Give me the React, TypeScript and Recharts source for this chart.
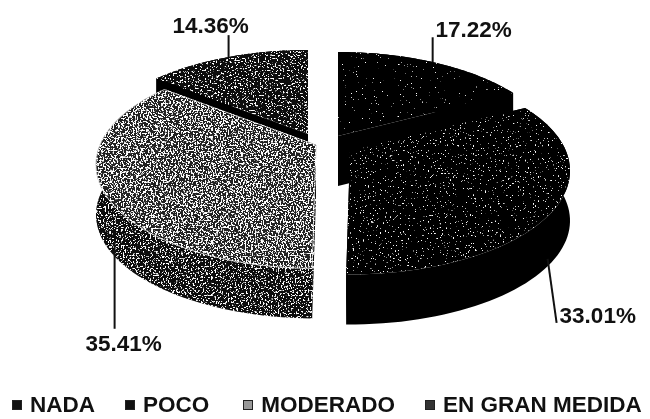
import React from "react";
import { PieChart, Pie, Legend } from "recharts";

const legendNames = ["NADA", "POCO", "MODERADO", "EN GRAN MEDIDA"];
const legendValues = [17.22, 33.01, 35.41, 14.36];
// Drawing order follows the pie's clockwise order, starting at the back-left slice so that nearer slices overlap it.
const drawOrder = [3, 0, 1, 2];

const data = drawOrder.map((i) => ({ name: legendNames[i], value: legendValues[i] }));

const CX = 330;
const CY = 141;
const RX = 216;
const RY = 100;
const PERSPECTIVE = 0.19;
const DEPTH = 50;

type SliceStyle = {
  dx: number; dy: number; top: string; wall: string; topFilter: string; wallFilter: string; stroke: string;
  lineDx: number; labelDx: number; labelDy: number; lineBaseDepth: number; textAnchor: "start" | "middle"; textDy: number; textDx: number;
};

const styles: Record<string, SliceStyle> = {
  NADA: { dx: 8, dy: -5, top: "#050505", wall: "#000", topFilter: "url(#speckSparse)", wallFilter: "none", stroke: "none", lineDx: -1, labelDx: 0, labelDy: -25, lineBaseDepth: 0, textAnchor: "middle", textDx: 41, textDy: 6 },
  POCO: { dx: 20, dy: 10, top: "#050505", wall: "#000", topFilter: "url(#speckMid)", wallFilter: "none", stroke: "none", lineDx: -7, labelDx: 9, labelDy: 64, lineBaseDepth: DEPTH, textAnchor: "start", textDx: 3, textDy: 0 },
  MODERADO: { dx: -14, dy: 4, top: "#222", wall: "#0a0a0a", topFilter: "url(#speckGrey)", wallFilter: "url(#speckWall)", stroke: "#bbb", lineDx: 11, labelDx: 0, labelDy: 87, lineBaseDepth: DEPTH, textAnchor: "middle", textDx: 9, textDy: 22 },
  "EN GRAN MEDIDA": { dx: -22, dy: -7, top: "#0a0a0a", wall: "#000", topFilter: "url(#speckDense)", wallFilter: "none", stroke: "none", lineDx: 1, labelDx: 0, labelDy: -22, lineBaseDepth: 0, textAnchor: "middle", textDx: -18, textDy: 4 },
};

const project = (cx: number, cy: number, mathAngle: number) => {
  const th = ((90 - mathAngle) * Math.PI) / 180;
  const t = Math.cos(th);
  const s = 1 / (1 + PERSPECTIVE * t);
  return { x: cx + RX * Math.sin(th) * s, y: cy - RY * t * s };
};

const toPath = (pts: { x: number; y: number }[]) =>
  pts.map((p, i) => `${i ? "L" : "M"}${p.x.toFixed(2)} ${p.y.toFixed(2)}`).join("") + "Z";

const Slice3D = (props: any) => {
  const name = props.payload?.name ?? props.name;
  const st = styles[name];
  const ax = props.cx + st.dx;
  const ay = props.cy + st.dy;
  const steps = 60;
  const arc: { x: number; y: number }[] = [];
  for (let i = 0; i <= steps; i++) {
    arc.push(project(ax, ay, props.startAngle + ((props.endAngle - props.startAngle) * i) / steps));
  }
  const down = (p: { x: number; y: number }) => ({ x: p.x, y: p.y + DEPTH });
  const apex = { x: ax, y: ay };
  const wall = [...arc, ...arc.slice().reverse().map(down)];
  const cut1 = [apex, arc[0], down(arc[0]), down(apex)];
  const cut2 = [apex, arc[steps], down(arc[steps]), down(apex)];
  return (
    <g>
      <path d={toPath(cut1)} fill={st.wall} filter={st.wallFilter} />
      <path d={toPath(cut2)} fill={st.wall} filter={st.wallFilter} />
      <path d={toPath(wall)} fill={st.wall} filter={st.wallFilter} />
      <path d={toPath([apex, ...arc])} fill={st.top} filter={st.topFilter} stroke={st.stroke} strokeWidth={1} />
    </g>
  );
};

const SliceLabel = (props: any) => {
  const name = props.payload?.name ?? props.name;
  const st = styles[name];
  const p = project(props.cx + st.dx, props.cy + st.dy, props.midAngle);
  const x0 = p.x + st.lineDx;
  const y0 = p.y + st.lineBaseDepth;
  const x1 = x0 + st.labelDx;
  const y1 = y0 + st.labelDy;
  return (
    <g>
      <line x1={x0} y1={y0} x2={x1} y2={y1} stroke="#111" strokeWidth={2} />
      <text
        x={x1 + st.textDx}
        y={y1 + st.textDy + (st.labelDy < 0 ? -6 : 0)}
        textAnchor={st.textAnchor}
        fontFamily="'Liberation Sans', Arial, sans-serif"
        fontWeight="bold"
        fontSize={22.5}
        fill="#111"
      >
        {`${props.value.toFixed(2)}%`}
      </text>
    </g>
  );
};

const speck = (id: string, threshold: number, freq: number, seed: number) => (
  <filter id={id} x="-5%" y="-5%" width="110%" height="110%">
    <feTurbulence type="fractalNoise" baseFrequency={freq} numOctaves={2} seed={seed} result="n" />
    <feColorMatrix
      in="n"
      type="matrix"
      values={`0 0 0 0 1  0 0 0 0 1  0 0 0 0 1  14 0 0 0 ${-14 * threshold}`}
      result="w"
    />
    <feComposite in="w" in2="SourceGraphic" operator="in" result="spots" />
    <feMerge>
      <feMergeNode in="SourceGraphic" />
      <feMergeNode in="spots" />
    </feMerge>
  </filter>
);

const iconFill = ["#111", "#111", "#999", "#333"];
const iconGaps = [12, 30, 34, 30];

const LegendRow = () => (
  <div
    style={{
      display: "flex",
      alignItems: "center",
      fontFamily: "'Liberation Sans', Arial, sans-serif",
      fontWeight: "bold",
      fontSize: 22.5,
      color: "#111",
      whiteSpace: "nowrap",
      lineHeight: "24px",
    }}
  >
    {legendNames.map((n, i) => (
      <React.Fragment key={n}>
        <span
          style={{
            display: "inline-block",
            width: 10,
            height: 10,
            marginLeft: iconGaps[i],
            marginRight: 8,
            background: iconFill[i],
            border: "1px solid #222",
            boxSizing: "border-box",
          }}
        />
        <span>{n}</span>
      </React.Fragment>
    ))}
  </div>
);

export default function App() {
  const first = data[0].value;
  const start = 90 + (first / 100) * 360;
  return (
    <div style={{ position: "absolute", left: 0, top: 0, width: 650, height: 419, overflow: "hidden", background: "#fff", filter: "blur(0.45px)" }}>
      <svg width={0} height={0} style={{ position: "absolute" }}>
        <defs>
          {speck("speckSparse", 0.74, 0.55, 4)}
          {speck("speckMid", 0.68, 0.6, 7)}
          {speck("speckDense", 0.6, 0.6, 11)}
          {speck("speckGrey", 0.51, 0.6, 3)}
          {speck("speckWall", 0.57, 0.6, 9)}
        </defs>
      </svg>
      <PieChart width={650} height={419} margin={{ top: 0, right: 0, bottom: 0, left: 0 }}>
        <Pie
          data={data}
          dataKey="value"
          nameKey="name"
          cx={CX}
          cy={CY}
          outerRadius={RX}
          innerRadius={0}
          startAngle={start}
          endAngle={start - 360}
          paddingAngle={0}
          stroke="none"
          isAnimationActive={false}
          shape={Slice3D}
          activeShape={Slice3D}
          inactiveShape={Slice3D}
          label={SliceLabel}
          labelLine={false}
        />
        <Legend content={LegendRow} wrapperStyle={{ left: 0, top: 393, width: 650 }} />
      </PieChart>
    </div>
  );
}
